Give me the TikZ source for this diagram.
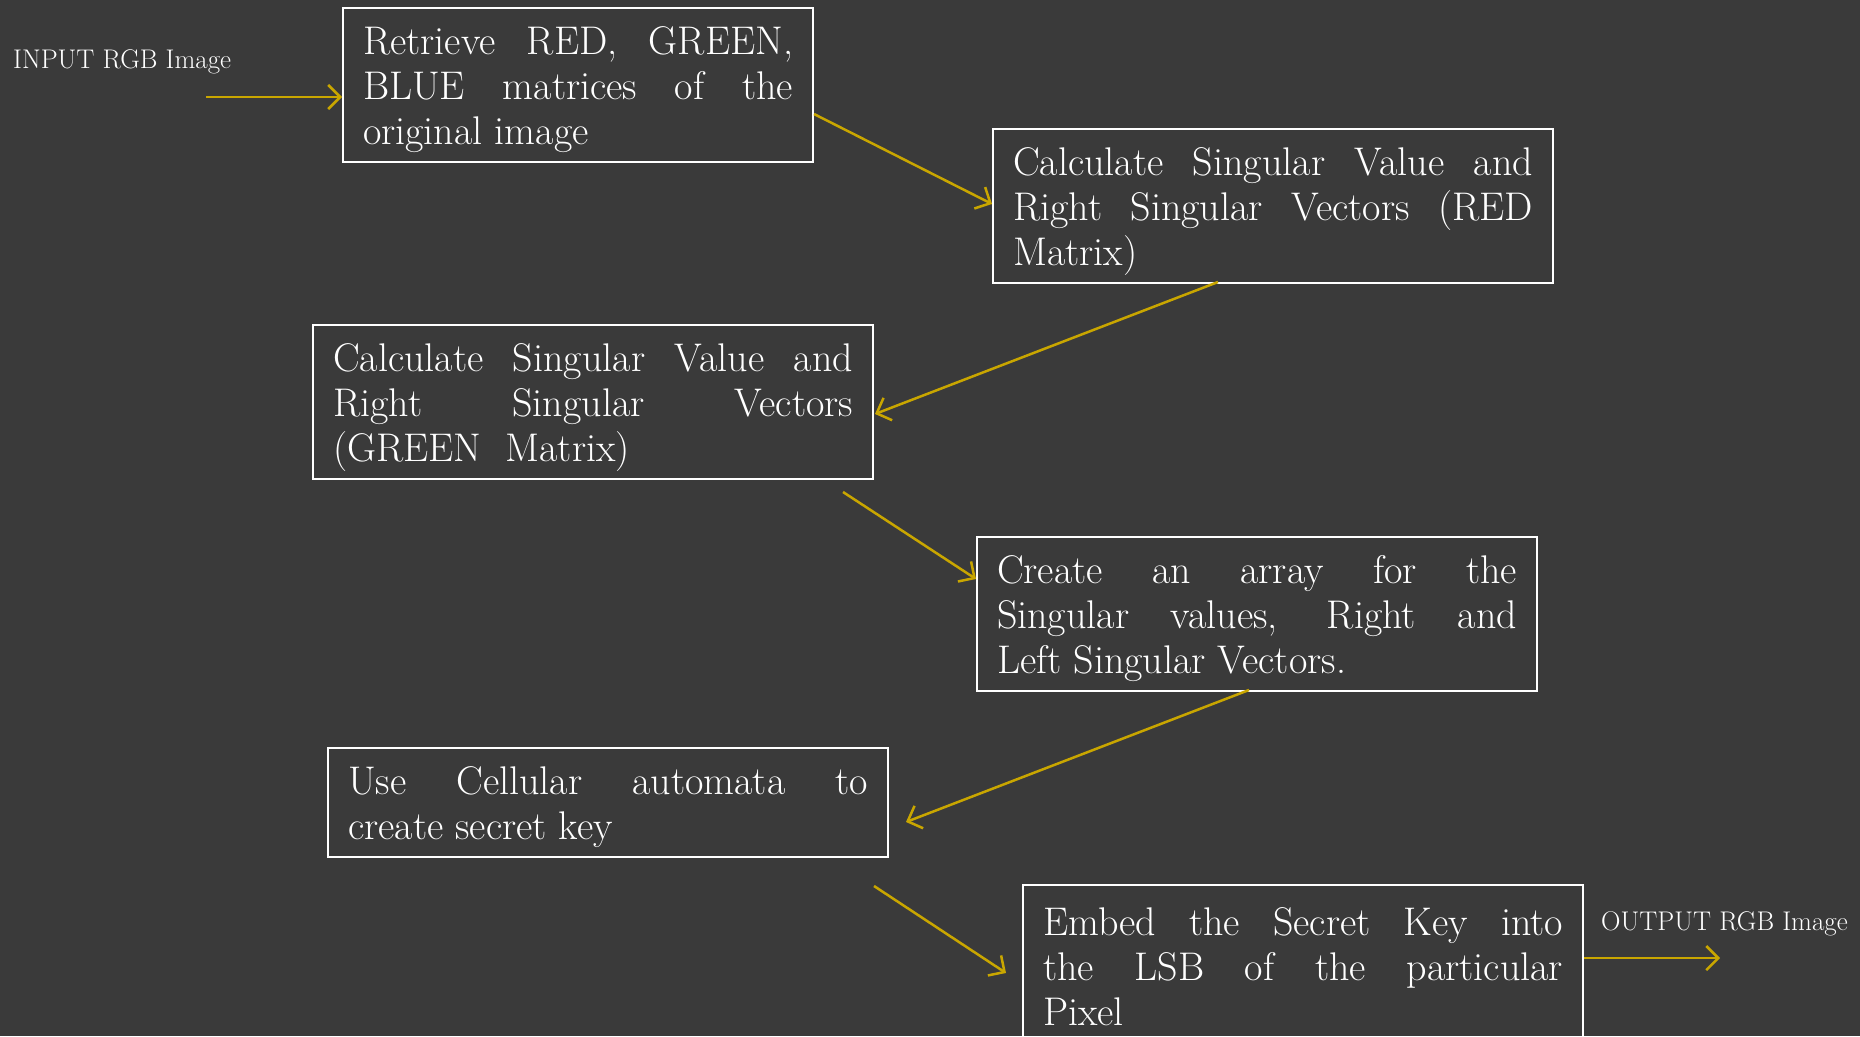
\documentclass[tikz,border=0pt]{standalone}
\usepackage{fontspec}
\usetikzlibrary{arrows.meta,calc}
\definecolor{bg}{HTML}{3A3A3A}
\definecolor{gold}{HTML}{C9A600}
\begin{document}
\begin{tikzpicture}[x=1pt,y=-1pt,
  box/.style={draw=white, line width=2pt, text=white, anchor=north west,
    inner xsep=20pt, inner ysep=0pt, align=justify,
    font=\fontsize{40}{45}\selectfont,
    execute at begin node={\tolerance=10000\relax\hyphenpenalty=10000\relax\rule{0pt}{38pt}}},
  wide/.style={text width=520pt, minimum height=154pt},
  arr/.style={draw=gold, line width=2.5pt, -{Straight Barb[length=12pt,width=24pt]}},
  lbl/.style={text=white, inner sep=0pt, anchor=base west, font=\fontsize{27}{30}\selectfont}]
\fill[bg] (0,0) rectangle (1860,1036);
\useasboundingbox (0,0) rectangle (1860,1036);
\clip (0,0) rectangle (1860,1036);

\node[box, text width=430pt, minimum height=154pt] (b1) at (342,7)
  {Retrieve RED, GREEN,\linebreak BLUE matrices of the\linebreak original image};
\node[box, wide] (b2) at (992,128)
  {Calculate Singular Value and\linebreak Right Singular Vectors (RED\linebreak Matrix)};
\node[box, wide] (b3) at (312,324)
  {Calculate Singular Value and\linebreak Right Singular Vectors\linebreak (GREEN\ \ Matrix)};
\node[box, wide] (b4) at (976,536)
  {Create an array for the\linebreak Singular values, Right and\linebreak Left Singular Vectors.};
\node[box, text width=520pt, minimum height=109pt] (b5) at (327,747)
  {Use Cellular automata to\linebreak create secret key};
\node[box, wide] (b6) at (1022,884)
  {Embed the Secret Key into\linebreak the LSB of the particular\linebreak Pixel};

\node[lbl] (inl) at (13,68) {INPUT RGB Image};
\node[lbl] (outl) at (1601,930) {OUTPUT RGB Image};

\coordinate (inA) at (206,97);
\draw[arr] (inA) -- ($(b1.north west)+(0,90)$);
\draw[arr] ($(b1.north east)+(0,107)$) -- ($(b2.north west)+(0,76)$);
\draw[arr] ($(b2.south west)+(226,-2)$) -- ($(b3.north east)+(1,90)$);
\draw[arr] ($(b3.south east)+(-31,12)$) -- ($(b4.north west)+(0,43)$);
\draw[arr] ($(b4.south west)+(273,-2)$) -- ($(b5.north east)+(17,75)$);
\draw[arr] ($(b5.south east)+(-15,28)$) -- ($(b6.north west)+(-16,89)$);
\draw[arr] ($(b6.north east)+(0,74)$) -- ($(b6.north east)+(136,74)$);
\end{tikzpicture}
\end{document}
